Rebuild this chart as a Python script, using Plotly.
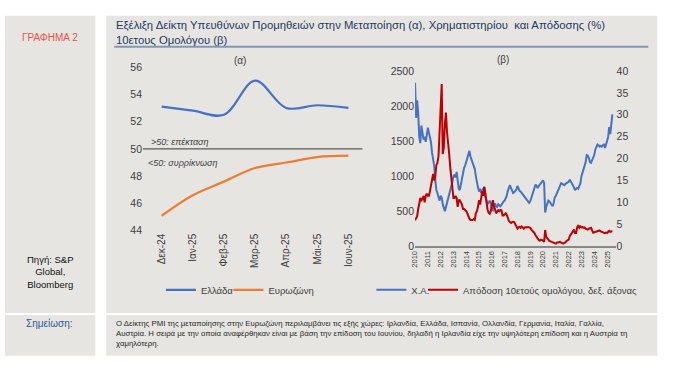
import plotly.graph_objects as go
import pandas as pd

W, H = 700, 384

# ---------------- data ----------------
pmi_months = ["Δεκ-24", "Ιαν-25", "Φεβ-25", "Μαρ-25", "Απρ-25", "Μάι-25", "Ιουν-25"]
pmi_greece = [53.1, 52.8, 52.5, 55.0, 53.0, 53.2, 53.0]
pmi_eurozone = [45.1, 46.6, 47.6, 48.6, 49.0, 49.4, 49.5]

# Athens General Index, monthly (2010-01 .. 2025-06)
ase_index = [
    2330, 1830, 2080, 1900, 1560, 1470, 1720, 1600, 1520, 1560, 1490, 1580,
    1690, 1620, 1560, 1480, 1330, 1250, 1150, 950, 800, 760, 680, 650,
    720, 690, 600, 560, 500, 560, 620, 660, 700, 780, 850, 920,
    1000, 1020, 980, 1060, 940, 820, 800, 880, 950, 1060, 1120, 1150,
    1200, 1240, 1300, 1360, 1280, 1230, 1200, 1160, 1100, 1000, 900, 840,
    780, 820, 760, 800, 820, 850, 700, 640, 600, 620, 650, 620,
    520, 510, 580, 610, 570, 560, 600, 580, 570, 590, 620, 640,
    650, 680, 720, 790, 840, 870, 830, 800, 760, 770, 790, 810,
    860, 820, 790, 780, 760, 740, 720, 690, 670, 650, 630, 620,
    640, 690, 740, 800, 840, 880, 860, 830, 860, 880, 900, 920,
    940, 900, 480, 560, 620, 650, 640, 620, 600, 570, 620, 700,
    720, 760, 800, 850, 880, 900, 890, 880, 870, 890, 900, 910,
    920, 950, 930, 900, 870, 840, 800, 820, 830, 820, 850, 900,
    1000, 1050, 1100, 1150, 1200, 1300, 1290, 1260, 1200, 1190, 1230, 1280,
    1300, 1380, 1430, 1450, 1440, 1420, 1430, 1420, 1440, 1450, 1400, 1470,
    1500, 1560, 1700, 1600, 1750, 1880,
]

# Greek 10-year bond yield (%), monthly (2010-01 .. 2025-06)
gr10y_yield = [
    5.9, 6.5, 6.8, 8.5, 9.5, 11.0, 10.5, 10.8, 11.5, 10.0, 11.5, 12.0,
    11.5, 11.5, 12.5, 14.0, 16.0, 16.5, 15.0, 16.0, 18.5, 19.0, 20.5, 26.0,
    34.0, 37.0, 21.0, 22.5, 28.0, 30.5, 26.0, 24.0, 21.0, 18.0, 16.0, 13.0,
    11.0, 11.0, 11.5, 11.0, 9.0, 10.5, 10.5, 10.0, 9.5, 8.5, 8.5, 8.2,
    8.0, 7.5, 6.8, 6.3, 6.0, 6.0, 6.0, 6.2, 6.0, 7.5, 8.0, 9.0,
    10.5, 9.5, 11.0, 12.5, 11.5, 13.5, 12.0, 9.5, 8.3, 7.6, 7.4, 8.0,
    9.5, 10.5, 9.0, 8.5, 7.5, 8.0, 8.2, 8.0, 8.3, 8.2, 7.0, 7.0,
    7.2, 7.5, 7.2, 6.3, 5.8, 5.5, 5.3, 5.5, 5.6, 5.5, 4.9, 4.2,
    4.0, 4.3, 4.4, 4.2, 4.5, 4.3, 4.0, 4.3, 4.4, 4.3, 4.4, 4.3,
    4.2, 3.8, 3.6, 3.3, 3.0, 2.5, 2.1, 1.9, 1.4, 1.3, 1.5, 1.4,
    1.3, 1.0, 3.7, 2.1, 1.8, 1.4, 1.2, 1.1, 1.0, 0.9, 0.7, 0.6,
    0.6, 0.8, 0.9, 0.9, 1.0, 0.8, 0.6, 0.6, 0.8, 0.9, 1.2, 1.3,
    1.5, 2.3, 2.6, 2.9, 3.2, 3.8, 3.0, 3.0, 4.3, 4.8, 4.2, 4.5,
    4.3, 4.4, 4.2, 4.3, 4.0, 3.8, 3.8, 4.0, 4.1, 4.2, 3.6, 3.1,
    3.2, 3.3, 3.4, 3.4, 3.6, 3.6, 3.4, 3.3, 3.2, 3.1, 3.0, 3.1,
    3.0, 3.3, 3.5, 3.3, 3.4, 3.3,
]

dates = pd.date_range("2010-01-01", periods=len(ase_index), freq="MS")

# ---------------- helpers ----------------
FONT = "Liberation Sans, Arial, sans-serif"
TXT = "#404040"
BOX = "#E6E5E1"


def px(x):
    return x / W


def py(y):
    return 1 - y / H


fig = go.Figure()

fig.add_trace(go.Scatter(x=pmi_months, y=pmi_greece, name="Ελλάδα", mode="lines",
                         line=dict(color="#4472C4", width=2.2, shape="spline", smoothing=1.0),
                         xaxis="x", yaxis="y", legend="legend"))
fig.add_trace(go.Scatter(x=pmi_months, y=pmi_eurozone, name="Ευρωζώνη", mode="lines",
                         line=dict(color="#ED7D31", width=2.2, shape="spline", smoothing=1.0),
                         xaxis="x", yaxis="y", legend="legend2"))
fig.add_trace(go.Scatter(x=dates, y=ase_index, name="Χ.Α.", mode="lines",
                         line=dict(color="#4472C4", width=2),
                         xaxis="x2", yaxis="y2", legend="legend3"))
fig.add_trace(go.Scatter(x=dates, y=gr10y_yield, name="Απόδοση 10ετούς ομολόγου, δεξ. άξονας",
                         mode="lines", line=dict(color="#C00000", width=2),
                         xaxis="x2", yaxis="y3", legend="legend4"))

shapes = [
    dict(type="rect", xref="paper", yref="paper", x0=px(0), x1=px(91), y0=py(317), y1=py(10),
         fillcolor=BOX, line=dict(width=0), layer="below"),
    dict(type="rect", xref="paper", yref="paper", x0=px(102), x1=px(657), y0=py(317), y1=py(10),
         fillcolor=BOX, line=dict(width=0), layer="below"),
    dict(type="rect", xref="paper", yref="paper", x0=px(0), x1=px(91), y0=py(361), y1=py(319),
         fillcolor=BOX, line=dict(width=0), layer="below"),
    dict(type="rect", xref="paper", yref="paper", x0=px(102), x1=px(657), y0=py(361), y1=py(319),
         fillcolor=BOX, line=dict(width=0), layer="below"),
    dict(type="line", xref="paper", yref="paper", x0=px(110), x1=px(648), y0=py(42), y1=py(42),
         line=dict(color="#8497B0", width=2)),
    dict(type="line", xref="x domain", yref="y", x0=0, x1=1, y0=50, y1=50,
         line=dict(color="#595959", width=1.3)),
]

ann = [
    dict(x=px(45), y=py(33), text="ΓΡΑΦΗΜΑ 2", font=dict(size=10, color="#E8534A")),
    dict(x=px(110), y=py(20), xanchor="left",
         text="Εξέλιξη Δείκτη Υπευθύνων Προμηθειών στην Μεταποίηση (α), Χρηματιστηρίου  και Απόδοσης (%)",
         font=dict(size=11.3, color="#1F3864")),
    dict(x=px(110), y=py(35), xanchor="left", text="10ετους Ομολόγου (β)",
         font=dict(size=11.3, color="#1F3864")),
    dict(x=px(45), y=py(275), text="Πηγή: S&amp;P<br>Global,<br>Bloomberg",
         font=dict(size=9.5, color="#111111")),
    dict(x=px(45), y=py(328), text="Σημείωση:", font=dict(size=10, color="#2F5597")),
    dict(x=px(110), y=py(338.5), xanchor="left", align="left",
         text=("Ο Δείκτης PMI της μεταποίησης στην Ευρωζώνη περιλαμβάνει τις εξής χώρες: Ιρλανδία, Ελλάδα, Ισπανία, Ολλανδία, Γερμανία, Ιταλία, Γαλλία,"
               "<br>Αυστρία. Η σειρά με την οποία αναφέρθηκαν είναι με βάση την επίδοση του Ιουνίου, δηλαδή η Ιρλανδία είχε την υψηλότερη επίδοση και η Αυστρία τη"
               "<br>χαμηλότερη."),
         font=dict(size=7.8, color="#262626")),
    dict(x=px(237), y=py(56), text="(α)", font=dict(size=10, color=TXT)),
    dict(x=px(502), y=py(55), text="(β)", font=dict(size=10, color=TXT)),
    dict(x=px(145), y=py(140), xanchor="left", text="<i>&gt;50: επέκταση</i>",
         font=dict(size=9, color=TXT)),
    dict(x=px(142), y=py(162), xanchor="left", text="<i>&lt;50: συρρίκνωση</i>",
         font=dict(size=9, color=TXT)),
]
for a in ann:
    a.update(xref="paper", yref="paper", showarrow=False)
    a.setdefault("xanchor", "center")
    a.setdefault("yanchor", "middle")

tick_font = dict(size=10.5, color=TXT, family=FONT)


def leg(xpix):
    return dict(orientation="h", x=px(xpix), y=py(293), xanchor="left", yanchor="middle",
                font=dict(size=9.5, color=TXT), bgcolor="rgba(0,0,0,0)")


fig.update_layout(
    width=W, height=H,
    margin=dict(l=0, r=0, t=0, b=0),
    paper_bgcolor="white", plot_bgcolor="rgba(0,0,0,0)",
    font=dict(family=FONT, color=TXT),
    shapes=shapes, annotations=ann,
    xaxis=dict(domain=[px(139), px(360)], type="category", range=[-0.6, 6.45],
               tickangle=-90, tickfont=dict(size=10, color=TXT), showgrid=False,
               zeroline=False, showline=False, ticks="", anchor="y"),
    yaxis=dict(domain=[py(232), py(63)], range=[44, 56], dtick=2, tickfont=tick_font,
               showgrid=False, zeroline=False, showline=False, ticks="", anchor="x"),
    xaxis2=dict(domain=[px(413), px(615)], type="date",
                range=["2010-01-01", "2025-09-01"], tick0="2010-01-01", dtick="M12",
                tickformat="%Y", tickangle=-90, tickfont=dict(size=7.5, color=TXT),
                showgrid=False, zeroline=False, showline=True, linecolor="#898989",
                linewidth=1.5, ticks="", anchor="y2"),
    yaxis2=dict(domain=[py(248), py(67)], range=[0, 2500], dtick=500, tickfont=tick_font,
                showgrid=False, zeroline=False, showline=False, ticks="", anchor="x2"),
    yaxis3=dict(overlaying="y2", side="right", range=[0, 40], dtick=5, tickfont=tick_font,
                showgrid=False, zeroline=False, showline=False, ticks="", anchor="x2"),
    legend=leg(157),
    legend2=leg(225),
    legend3=leg(369),
    legend4=leg(421),
    showlegend=True,
)

fig.write_html("out.html", config={"displayModeBar": False},
               post_script="document.body.style.margin='0px';")
